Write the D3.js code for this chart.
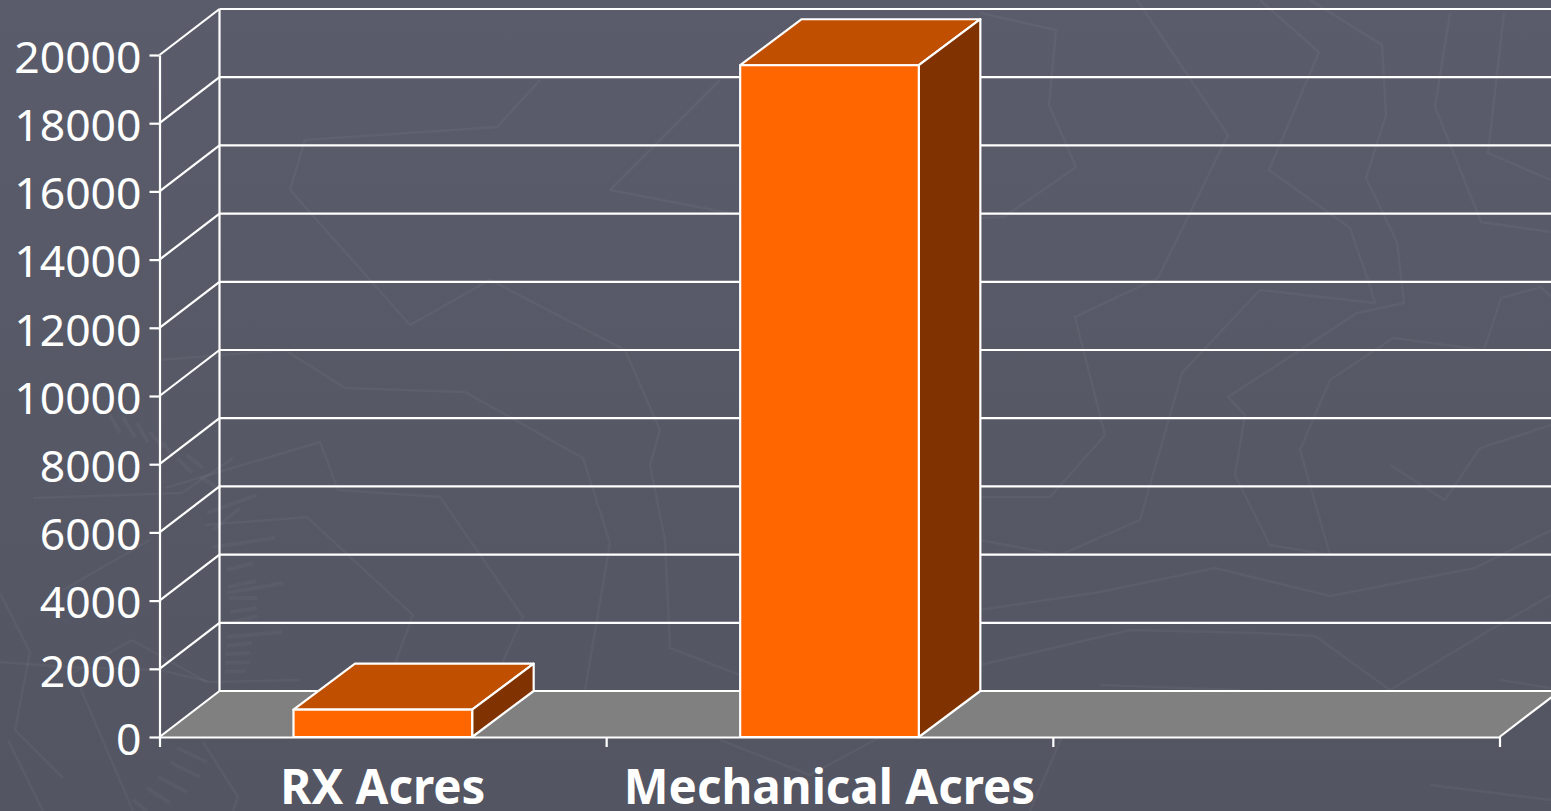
<!DOCTYPE html>
<html lang="en">
<head>
<meta charset="UTF-8">
<title>Acres Chart</title>
<script src="https://d3js.org/d3.v7.min.js"></script>
<style>
    body { margin: 0; padding: 0; background: #565866; overflow: hidden; }
    svg { display: block; }
    .tick text { fill: white; font-family: 'Noto Sans', 'Liberation Sans', sans-serif; }
    .y-axis .tick text { font-size: 44.5px; }
    .x-labels .tick text { font-size: 47.5px; font-weight: bold; }
    .domain, .tick line { stroke: white; stroke-width: 2.2px; }
</style>
</head>
<body>
<svg width="1551" height="811"></svg>
<script>
    const categories = ["RX Acres", "Mechanical Acres", ""];
    const acres = [800, 19700, null];
    const yTicks = [0, 2000, 4000, 6000, 8000, 10000, 12000, 14000, 16000, 18000, 20000];

    // faint lines of the slide background
    const backdrop = [
        [[290,190],[305,140],[497,127],[540,80]],
        [[290,190],[410,325],[490,280],[625,350],[660,430],[650,465],[665,540],[670,648],[740,675]],
        [[160,360],[285,350],[345,388],[465,392],[583,458],[610,543],[585,690]],
        [[165,488],[320,442],[338,490],[440,497],[523,617],[490,690]],
        [[205,525],[307,517],[413,615],[385,690]],
        [[610,190],[720,80]],
        [[610,190],[740,215]],
        [[980,13],[1056,30],[1049,105],[1076,167],[1004,217],[980,218]],
        [[1137,0],[1228,135],[1158,278],[1075,317],[1105,435],[1050,497],[980,497]],
        [[1260,0],[1319,52],[1269,170],[1350,228],[1368,280],[1375,303],[1260,290],[1182,373],[1140,520],[1060,555],[980,540]],
        [[1310,0],[1382,45],[1386,115],[1366,178],[1397,242],[1404,303],[1357,313],[1228,397],[1245,415],[1235,475],[1270,545],[1330,555],[1300,450],[1330,380],[1393,338],[1484,350],[1501,298],[1541,287],[1551,297]],
        [[1450,13],[1435,107],[1481,222],[1551,232]],
        [[1504,13],[1488,153],[1551,180]],
        [[980,610],[1100,592],[1215,568],[1330,596],[1475,568],[1551,530]],
        [[980,665],[1130,630],[1258,633],[1315,636],[1390,690],[1490,630],[1551,595]],
        [[1390,465],[1445,500],[1480,448],[1551,425]],
        [[1100,685],[1240,690]],
        [[1500,680],[1551,688]],
        [[1062,737],[1030,811]],
        [[1430,785],[1551,800]],
        [[720,740],[810,775],[880,737]],
        [[0,593],[30,652],[15,730],[63,778]],
        [[8,740],[43,811]],
        [[0,662],[67,667],[160,670],[210,682],[300,680]],
        [[63,590],[150,540]],
        [[33,498],[182,493],[233,458]],
        [[132,640],[73,673]],
        [[132,640],[207,682]],
        [[77,680],[133,811]],
        [[203,742],[238,797],[233,811]]
    ];
    const hatches = [
        [227,570,253,563], [228,587,256,581], [229,598,257,598], [230,612,257,608], [230,623,257,616],
        [227,637,282,632], [227,646,252,643], [225,654,250,653], [225,663,250,662], [225,672,245,671],
        [207,513,257,495], [213,530,240,508], [213,547,275,538], [227,593,283,583],
        [110,415,120,433], [123,417,135,437], [137,423,148,442], [150,432,163,448], [163,442,173,457],
        [177,458,192,473], [187,455,203,468], [200,477,217,487],
        [177,748,207,762], [170,762,200,777], [158,777,187,792], [147,788,170,803], [133,800,147,811]
    ];

    const svg = d3.select("svg");
    const margin = {left: 159.5, right: 51, top: 55, bottom: 74};
    const depthX = 60, depthY = 46, barDepthX = 61.5;

    const y = d3.scaleLinear().domain([0, 20000]).range([737, margin.top]);
    const xEdge = d3.scaleLinear().domain([0, categories.length]).range([margin.left, 1499.5]);
    const xBand = d3.scaleBand().domain(categories).range([margin.left, 1499.5]);
    const barWidth = xBand.bandwidth() * 0.4;

    // background
    const defs = svg.append("defs");
    const grad = defs.append("linearGradient").attr("id", "bg").attr("x1", 0).attr("x2", 0).attr("y1", 0).attr("y2", 1);
    grad.append("stop").attr("offset", "0%").attr("stop-color", "#5a5c6b");
    grad.append("stop").attr("offset", "100%").attr("stop-color", "#535562");
    svg.append("rect").attr("width", 1551).attr("height", 811).attr("fill", "url(#bg)");

    const plainLine = d3.line();
    const deco = svg.append("g").attr("fill", "none").attr("stroke", "white");
    deco.selectAll("path")
        .data(backdrop)
        .enter().append("path")
        .attr("d", plainLine)
        .attr("stroke-opacity", 0.04)
        .attr("stroke-width", 2.5);
    deco.selectAll("line")
        .data(hatches)
        .enter().append("line")
        .attr("x1", d => d[0]).attr("y1", d => d[1])
        .attr("x2", d => d[2]).attr("y2", d => d[3])
        .attr("stroke-opacity", 0.03)
        .attr("stroke-width", 4);

    // floor
    const floor = [
        [xEdge(0), y(0)], [xEdge(3), y(0)],
        [xEdge(3) + depthX, y(0) - depthY], [xEdge(0) + depthX, y(0) - depthY]
    ];
    svg.append("path")
        .attr("d", plainLine(floor) + "Z")
        .attr("fill", "#808080");

    // grid on the back wall and the side wall
    const grid = svg.append("g").attr("stroke", "white").attr("stroke-width", 2.2);
    grid.selectAll(".back")
        .data(yTicks)
        .enter().append("line")
        .attr("x1", xEdge(0) + depthX)
        .attr("x2", 1551)
        .attr("y1", d => y(d) - depthY)
        .attr("y2", d => y(d) - depthY);
    grid.selectAll(".side")
        .data(yTicks)
        .enter().append("line")
        .attr("x1", xEdge(0))
        .attr("x2", xEdge(0) + depthX)
        .attr("y1", d => y(d))
        .attr("y2", d => y(d) - depthY);
    grid.append("line")
        .attr("x1", xEdge(0) + depthX)
        .attr("x2", xEdge(0) + depthX)
        .attr("y1", y(0) - depthY)
        .attr("y2", y(20000) - depthY);
    grid.append("line")
        .attr("x1", xEdge(3))
        .attr("x2", xEdge(3) + depthX)
        .attr("y1", y(0))
        .attr("y2", y(0) - depthY);

    // axes
    svg.append("g")
        .attr("class", "y-axis")
        .attr("transform", `translate(${margin.left},0)`)
        .call(d3.axisLeft(y).tickValues(yTicks).tickFormat(d3.format("d")).tickSize(10).tickSizeOuter(0).tickPadding(8))
        .selectAll("text")
        .attr("dy", "0.39em");

    svg.append("g")
        .attr("transform", `translate(0,${y(0)})`)
        .call(d3.axisBottom(xEdge).tickValues([0, 1, 2, 3]).tickFormat("").tickSize(10).tickSizeOuter(0));

    const labels = svg.append("g")
        .attr("class", "x-labels")
        .attr("transform", `translate(0,${y(0)})`)
        .call(d3.axisBottom(xBand).tickSize(0).tickPadding(33));
    labels.select(".domain").remove();

    // bars
    const bars = svg.append("g").selectAll("g")
        .data(categories.map((c, i) => ({category: c, value: acres[i]})).filter(d => d.value !== null))
        .enter().append("g")
        .attr("stroke", "white")
        .attr("stroke-width", 2.2)
        .attr("stroke-linejoin", "round");

    const left = d => xBand(d.category) + (xBand.bandwidth() - barWidth) / 2;

    bars.append("path")
        .attr("fill", "#c04f00")
        .attr("d", d => plainLine([
            [left(d), y(d.value)], [left(d) + barWidth, y(d.value)],
            [left(d) + barWidth + barDepthX, y(d.value) - depthY], [left(d) + barDepthX, y(d.value) - depthY]
        ]) + "Z");

    bars.append("path")
        .attr("fill", "#803300")
        .attr("d", d => plainLine([
            [left(d) + barWidth, y(d.value)], [left(d) + barWidth + barDepthX, y(d.value) - depthY],
            [left(d) + barWidth + barDepthX, y(0) - depthY], [left(d) + barWidth, y(0)]
        ]) + "Z");

    bars.append("rect")
        .attr("fill", "#ff6600")
        .attr("x", left)
        .attr("y", d => y(d.value))
        .attr("width", barWidth)
        .attr("height", d => y(0) - y(d.value));
</script>
</body>
</html>
